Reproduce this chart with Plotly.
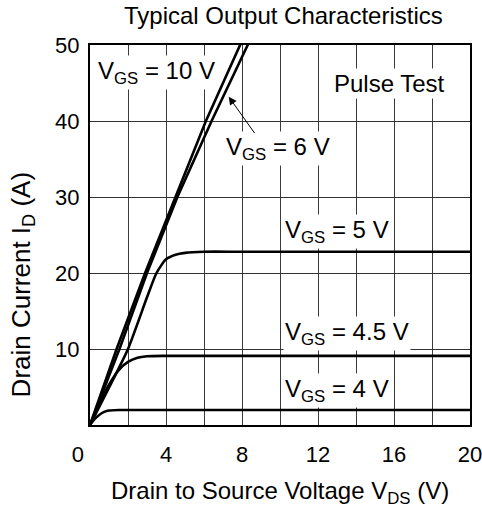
import plotly.graph_objects as go

FONT = "Liberation Sans, Arial, Helvetica, sans-serif"

# Data
vgs10_x = [0, 1.4, 2.9, 4.5, 6.1, 7.9, 8.85]
vgs10_y = [0, 10, 20, 30, 40, 50, 55]

vgs6_x = [0, 1.55, 3.0, 4.6, 6.4, 8.25, 9.25]
vgs6_y = [0, 10, 20, 30, 40, 50, 55]

vgs5_x = [0, 1.0, 2.0, 3.0, 3.5, 4.0, 4.5, 5.0, 6.0, 8.0, 20.0]
vgs5_y = [0, 4.9, 10.0, 16.8, 20.0, 21.8, 22.4, 22.65, 22.8, 22.8, 22.8]

vgs45_x = [0, 0.5, 1.0, 1.5, 2.0, 2.5, 3.0, 4.0, 20.0]
vgs45_y = [0, 2.8, 5.3, 7.2, 8.3, 8.85, 9.05, 9.1, 9.1]

vgs4_x = [0, 0.25, 0.5, 0.75, 1.0, 1.5, 2.0, 20.0]
vgs4_y = [0, 0.8, 1.35, 1.72, 1.9, 1.97, 1.98, 1.98]

x_ticks = [0, 4, 8, 12, 16, 20]
x_tick_text = ["0\u2007\u2007", "4", "8", "12", "16", "20"]
y_ticks = [10, 20, 30, 40, 50]

series = [
    ("V_GS = 10 V", vgs10_x, vgs10_y, "linear"),
    ("V_GS = 6 V", vgs6_x, vgs6_y, "linear"),
    ("V_GS = 5 V", vgs5_x, vgs5_y, "spline"),
    ("V_GS = 4.5 V", vgs45_x, vgs45_y, "spline"),
    ("V_GS = 4 V", vgs4_x, vgs4_y, "spline"),
]

fig = go.Figure()
for name, xs, ys, shape in series:
    fig.add_trace(go.Scatter(x=xs, y=ys, mode="lines", name=name,
                             line=dict(color="black", width=2.6, shape=shape, smoothing=0.6),
                             showlegend=False, hoverinfo="skip"))

lab_font = dict(family=FONT, size=24, color="black")

def label(text, x, y, xanchor="left"):
    fig.add_annotation(x=x, y=y, text=text, showarrow=False, xanchor=xanchor,
                       yanchor="middle", font=lab_font, bgcolor="white", borderpad=1)

label("V<sub>GS</sub> = 10 V", 0.3, 46.4)
label("Pulse Test", 15.75, 44.9, xanchor="center")
label("V<sub>GS</sub> = 6 V", 7.05, 36.4)
label("V<sub>GS</sub> = 5 V", 10.15, 25.4)
label("V<sub>GS</sub> = 4.5 V", 10.15, 12.1)
label("V<sub>GS</sub> = 4 V", 10.15, 4.6)

# arrow pointing at the 6 V curve
fig.add_annotation(x=7.3, y=43.2, ax=27, ay=38, text="", showarrow=True,
                   arrowhead=2, arrowsize=1.6, arrowwidth=1, arrowcolor="black")

# axis titles and chart title
fig.add_annotation(xref="paper", yref="paper", x=0, y=0.37, xshift=-68,
                   text="Drain Current I<sub>D</sub> (A)", textangle=-90,
                   showarrow=False, font=dict(family=FONT, size=26, color="black"),
                   xanchor="center", yanchor="middle")
fig.add_annotation(xref="paper", yref="paper", x=0.5, y=0, yshift=-67,
                   text="Drain to Source Voltage V<sub>DS</sub> (V)",
                   showarrow=False, font=lab_font, xanchor="center", yanchor="middle")
fig.add_annotation(xref="paper", yref="paper", x=0.5, y=1, yshift=30, xshift=3,
                   text="Typical Output Characteristics",
                   showarrow=False, font=lab_font, xanchor="center", yanchor="middle")

fig.update_layout(
    width=482, height=511,
    margin=dict(l=90, r=12, t=45, b=86, autoexpand=False),
    paper_bgcolor="white", plot_bgcolor="white",
    font=dict(family=FONT, size=22, color="black"),
    showlegend=False,
)
fig.update_xaxes(range=[0, 20], tickmode="array", tickvals=x_ticks,
                 ticktext=x_tick_text,
                 showgrid=True, gridcolor="#3a3a3a", gridwidth=1,
                 minor=dict(dtick=2, tick0=0, showgrid=True, gridcolor="#3a3a3a", gridwidth=1),
                 showline=True, linecolor="black", linewidth=2, mirror=True,
                 zeroline=False, ticks="", ticklabelstandoff=9, automargin=False,
                 ticklabeloverflow="allow",
                 tickfont=dict(family=FONT, size=22, color="black"))
fig.update_yaxes(range=[0, 50], tickmode="array", tickvals=y_ticks,
                 ticktext=[str(v) for v in y_ticks],
                 showgrid=True, gridcolor="#333333", gridwidth=1,
                 showline=True, linecolor="black", linewidth=2, mirror=True,
                 zeroline=False, ticks="", ticklabelstandoff=4, automargin=False,
                 tickfont=dict(family=FONT, size=22, color="black"))

fig.write_html("out.html", config={"displayModeBar": False},
               post_script="document.body.style.margin='0px';")
